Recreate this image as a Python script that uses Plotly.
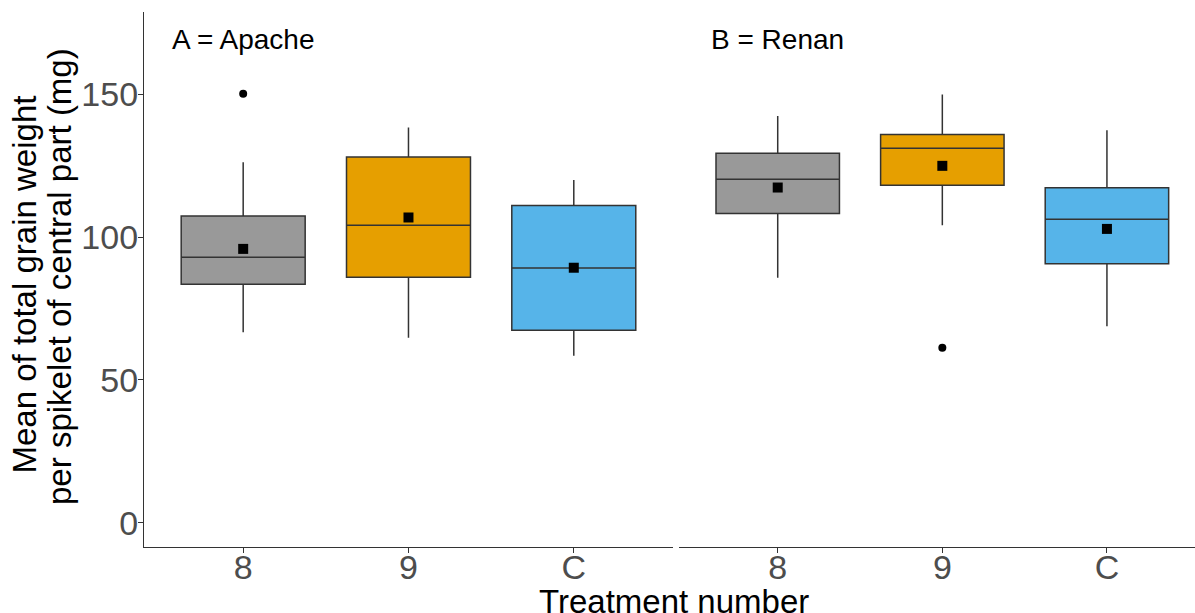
import plotly.graph_objects as go

treatments = ["8", "9", "C"]
colors = ["#999999", "#E69F00", "#56B4E9"]

# Apache (panel A)
apache_q1 = [83.5, 86.0, 67.4]
apache_median = [93.0, 104.2, 89.2]
apache_q3 = [107.4, 128.1, 111.1]
apache_low = [66.7, 64.8, 58.5]
apache_high = [126.3, 138.4, 120.0]
apache_mean = [95.9, 106.9, 89.3]
apache_out_x = ["8"]
apache_out_y = [150.3]

# Renan (panel B)
renan_q1 = [108.3, 118.2, 90.7]
renan_median = [120.3, 131.2, 106.3]
renan_q3 = [129.4, 136.0, 117.3]
renan_low = [85.8, 104.2, 68.8]
renan_high = [142.5, 150.0, 137.5]
renan_mean = [117.4, 125.0, 102.9]
renan_out_x = ["9"]
renan_out_y = [61.3]

panel_labels = ["A = Apache", "B = Renan"]
label_y = 169.2
y_title_lines = ["Mean of total grain weight", "per spikelet of central part (mg)"]

fig = go.Figure()

panels = [
    ("x", apache_q1, apache_median, apache_q3, apache_low, apache_high, apache_mean, apache_out_x, apache_out_y),
    ("x2", renan_q1, renan_median, renan_q3, renan_low, renan_high, renan_mean, renan_out_x, renan_out_y),
]
for xa, q1, med, q3, lo, hi, mn, ox, oy in panels:
    for i, t in enumerate(treatments):
        fig.add_trace(go.Box(
            x=[t], q1=[q1[i]], median=[med[i]], q3=[q3[i]],
            lowerfence=[lo[i]], upperfence=[hi[i]],
            boxpoints=False, width=0.75, whiskerwidth=0,
            fillcolor=colors[i], line=dict(color="#333333", width=1.5),
            xaxis=xa, yaxis="y", showlegend=False,
        ))
    fig.add_trace(go.Scatter(
        x=treatments, y=mn, mode="markers",
        marker=dict(symbol="square", size=10, color="black"),
        xaxis=xa, yaxis="y", showlegend=False,
    ))
    fig.add_trace(go.Scatter(
        x=ox, y=oy, mode="markers",
        marker=dict(symbol="circle", size=8, color="black"),
        xaxis=xa, yaxis="y", showlegend=False,
    ))

font_family = "Liberation Sans, Arial"
tickfont = dict(family=font_family, size=34, color="#4D4D4D")
xcommon = dict(
    type="category", categoryorder="array", categoryarray=treatments,
    showline=True, linecolor="#333333", linewidth=1.2,
    ticks="outside", ticklen=5, tickcolor="#333333",
    tickfont=tickfont, showgrid=False, zeroline=False,
    automargin=False, ticklabelstandoff=-15,
)

fig.update_layout(
    width=1195, height=613,
    margin=dict(l=144, r=0, t=12, b=66),
    plot_bgcolor="white", paper_bgcolor="white",
    boxmode="overlay",
    xaxis=dict(domain=[0, 0.5033], range=[-0.6, 2.6], **xcommon),
    xaxis2=dict(domain=[0.509, 1], range=[-0.6, 2.535], **xcommon),
    yaxis=dict(
        range=[-8.55, 178.9], tickvals=[0, 50, 100, 150],
        showline=True, linecolor="#333333", linewidth=1.2,
        ticks="outside", ticklen=5, tickcolor="#333333",
        tickfont=tickfont, showgrid=False, zeroline=False, automargin=False,
        ticklabelstandoff=-7,
    ),
    annotations=[
        dict(text=panel_labels[0], x=0, y=label_y, xref="x", yref="y",
             showarrow=False, font=dict(family=font_family, size=28, color="black")),
        dict(text=panel_labels[1], x=0, y=label_y, xref="x2", yref="y",
             showarrow=False, font=dict(family=font_family, size=28, color="black")),
        dict(text="Treatment number", x=0.504, y=0, xref="paper", yref="paper",
             yanchor="middle", yshift=-54, showarrow=False,
             font=dict(family=font_family, size=33, color="black")),
        dict(text=y_title_lines[0],
             x=0, y=0.4907, xref="paper", yref="paper", xanchor="center", yanchor="middle",
             xshift=-120, textangle=-90, showarrow=False,
             font=dict(family=font_family, size=33, color="black")),
        dict(text=y_title_lines[1],
             x=0, y=0.5047, xref="paper", yref="paper", xanchor="center", yanchor="middle",
             xshift=-84, textangle=-90, showarrow=False,
             font=dict(family=font_family, size=33, color="black")),
    ],
)

fig.write_html("out.html", config={"displayModeBar": False},
               post_script="document.body.style.margin='0';document.body.style.overflow='hidden';")
